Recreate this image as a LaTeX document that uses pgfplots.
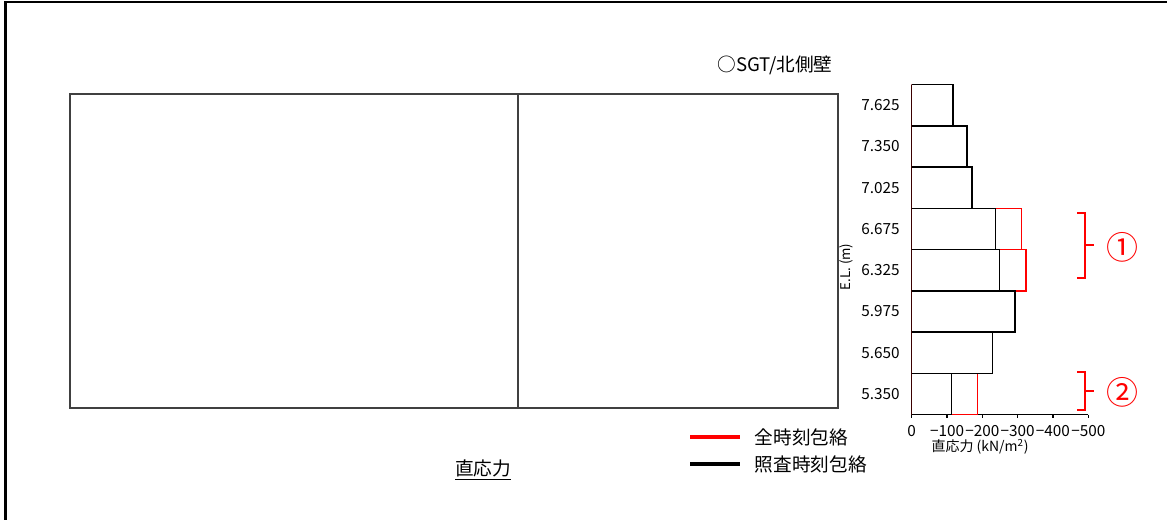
\documentclass[border=0pt]{standalone}
\usepackage{fontspec}
\setmainfont{Noto Sans CJK JP}
\usepackage{pgfplots}
\pgfplotsset{compat=1.18}
\begin{document}
\begin{tikzpicture}[x=0.75pt,y=-0.75pt]
\useasboundingbox (0,0) rectangle (1167,519);
% outer frame
\draw[line width=1.6pt] (5.5,530) -- (5.5,2) -- (1180,2);
% empty left panel
\draw[black!75, line width=1pt] (70,94) rectangle (838,408);
\draw[black!75, line width=1pt] (518,94) -- (518,408);
% title
\node[font=\fontsize{14}{16}\selectfont] at (775,65) {○SGT/北側壁};
\begin{axis}[
  at={(750pt,-187.2pt)}, anchor=center,
  scale only axis, width=132.45pt, height=247.5pt,
  x dir=reverse,
  xmin=-500, xmax=0, ymin=-0.5, ymax=7.5,
  axis x line*=bottom, axis y line*=left,
  axis line style={line width=1.1pt},
  xtick={0,-100,-200,-300,-400,-500},
  xticklabels={0,−100,−200,−300,−400,−500},
  ytick={0,1,2,3,4,5,6,7},
  yticklabels={5.350,5.650,5.975,6.325,6.675,7.025,7.350,7.625},
  tick align=outside, major tick length=2.5pt,
  xtick style={line width=0.8pt, black},
  ytick style={draw=none},
  ticklabel style={font=\fontsize{11.5}{13}\selectfont},
  yticklabel style={xshift=-3pt},
  xticklabel style={yshift=-2pt},
]
\addplot[xbar, bar width=1, bar shift=0, draw=red, fill=none, line width=1.1pt]
  coordinates {(-186,0) (-229,1) (-293,2) (-323,3) (-311,4) (-171,5) (-156,6) (-117,7)};
\addplot[xbar, bar width=1, bar shift=0, draw=black, fill=none, line width=1.1pt]
  coordinates {(-112,0) (-229,1) (-293,2) (-249,3) (-237,4) (-171,5) (-156,6) (-117,7)};
\end{axis}
% axis labels
\node[font=\fontsize{10.5}{12}\selectfont] at (980,447) {直応力 (kN/m\textsuperscript{2})};
\node[rotate=90, font=\fontsize{10}{12}\selectfont] at (846,267) {E.L. (m)};
% braces
\draw[red, line width=1.3pt] (1077,213) -- (1085,213) -- (1085,278) -- (1077,278);
\draw[red, line width=1.3pt] (1085,245) -- (1094,245);
\node[red, font=\fontsize{24}{26}\selectfont] at (1122,247) {①};
\draw[red, line width=1.3pt] (1077,372) -- (1085,372) -- (1085,410) -- (1077,410);
\draw[red, line width=1.3pt] (1085,391) -- (1094,391);
\node[red, font=\fontsize{24}{26}\selectfont] at (1122,392) {②};
% legend
\draw[red, line width=2.5pt] (690,437) -- (740,437);
\node[anchor=west, font=\fontsize{14}{16}\selectfont] at (750,437) {全時刻包絡};
\draw[black, line width=2.5pt] (690,464) -- (740,464);
\node[anchor=west, font=\fontsize{14}{16}\selectfont] at (750,464) {照査時刻包絡};
% bottom caption
\node[font=\fontsize{14}{16}\selectfont] at (483,470) {\underline{直応力}};
\end{tikzpicture}
\end{document}
